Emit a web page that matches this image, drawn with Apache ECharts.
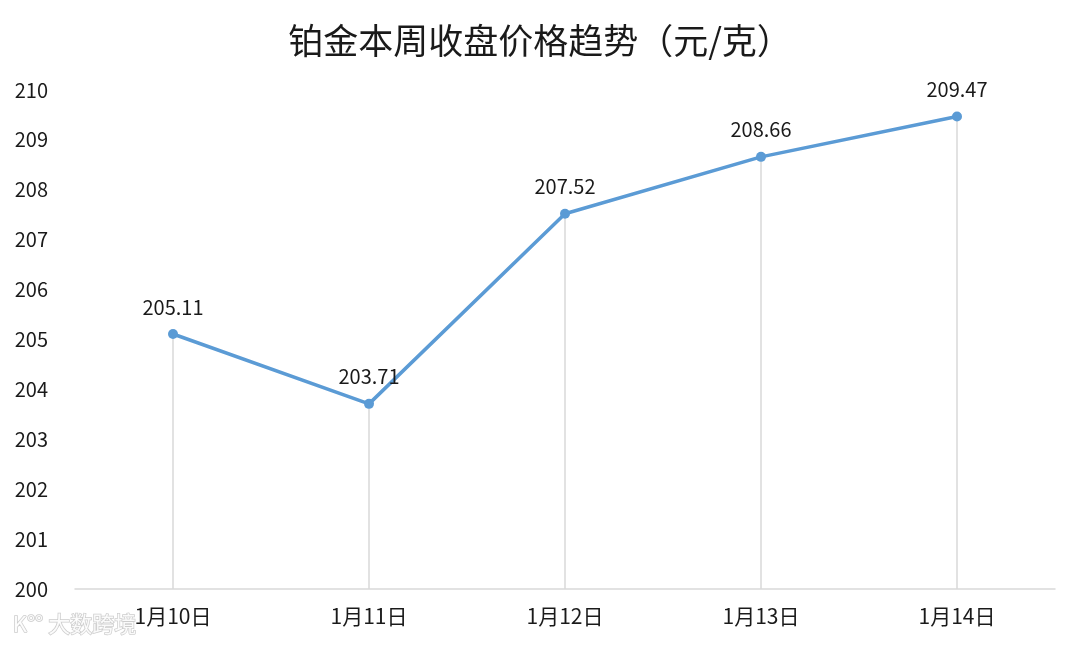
<!DOCTYPE html>
<html>
<head>
<meta charset="utf-8">
<script src="https://cdn.jsdelivr.net/npm/echarts@6/dist/echarts.min.js"></script>
<style>html,body{margin:0;padding:0;background:#fff;}#c{width:1080px;height:648px;}</style>
</head>
<body>
<div id="c"></div>
<script>
const titleText = '铂金本周收盘价格趋势（元/克）';
const categories = ['1月10日', '1月11日', '1月12日', '1月13日', '1月14日'];
const prices = [205.11, 203.71, 207.52, 208.66, 209.47];
const yMin = 200, yMax = 210, yStep = 1;

const font = '"Noto Sans CJK SC", "Noto Sans", sans-serif';
const chart = echarts.init(document.getElementById('c'));
const dropLines = prices.map((v, i) => [
  { coord: [i, v] },
  { coord: [i, yMin] }
]);
chart.setOption({
  backgroundColor: '#ffffff',
  animation: false,
  title: {
    text: titleText, left: 'center', top: 18,
    textStyle: { fontFamily: font, fontSize: 35, fontWeight: 'normal', color: '#1a1a1a' }
  },
  grid: { left: 75, right: 25, top: 90, bottom: 59 },
  xAxis: {
    type: 'category', data: categories, boundaryGap: true,
    axisLine: { show: true, lineStyle: { color: '#d9d9d9', width: 1.5 } },
    axisTick: { show: false },
    axisLabel: { fontFamily: font, fontSize: 21, color: '#1a1a1a', margin: 17 },
    splitLine: { show: false }
  },
  yAxis: {
    type: 'value', min: yMin, max: yMax, interval: yStep,
    axisLine: { show: false }, axisTick: { show: false },
    splitLine: { show: false },
    axisLabel: { fontFamily: font, fontSize: 20, color: '#1a1a1a', margin: 27 }
  },
  series: [{
    type: 'line', data: prices,
    symbol: 'circle', symbolSize: 10,
    itemStyle: { color: '#5b9bd5' },
    lineStyle: { color: '#5b9bd5', width: 3.5 },
    label: { show: true, position: 'top', distance: 12, fontFamily: font, fontSize: 20, color: '#1a1a1a',
      formatter: p => p.value.toFixed(2) },
    markLine: {
      silent: true, symbol: ['none', 'none'], label: { show: false },
      lineStyle: { color: '#d9d9d9', width: 1.5, type: 'solid' },
      data: dropLines, z: 1
    }
  }],
  graphic: [{
    type: 'text', left: 12, top: 612, z: 100,
    style: { text: 'K°° 大数跨境', fontFamily: font, fontSize: 22, fill: '#ffffff',
      stroke: '#c8c8c8', lineWidth: 1.5, opacity: 0.9 }
  }]
});
</script>
</body>
</html>
